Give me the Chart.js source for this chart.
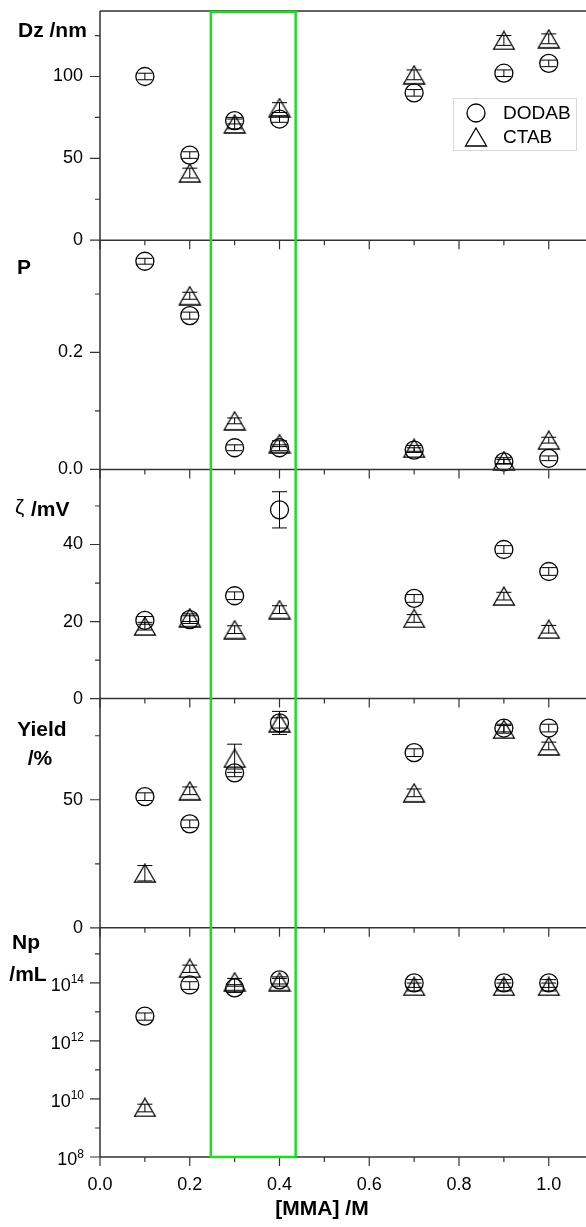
<!DOCTYPE html>
<html>
<head>
<meta charset="utf-8">
<script src="https://cdn.jsdelivr.net/npm/chart.js@4.4.0/dist/chart.umd.min.js"></script>
<style>
html,body{margin:0;padding:0;background:#fff;}
#wrap{position:relative;width:586px;height:1227px;}
canvas{display:block;}
</style>
</head>
<body>
<div id="wrap"><canvas id="c" width="586" height="1227"></canvas></div>
<script>
// ---------------- DATA ----------------
const mma = [0.1, 0.2, 0.3, 0.4, 0.7, 0.9, 1.0];
const seriesNames = ['DODAB', 'CTAB'];

const xMajorTicks = [0.0, 0.2, 0.4, 0.6, 0.8, 1.0];
const xMinorTicks = [0.1, 0.3, 0.5, 0.7, 0.9];

// Dz /nm
const dzDODAB = [100, 52, 73, 74, 90, 102, 108];
const dzCTAB = [null, 41, 71, 81, 101, 122, 123];
const dzDODABErr = [2, 2, 2, 2, 2, 2, 2];
const dzCTABErr = [null, 3, 3, 3, 3, 3, 3];
const dzTicks = [0, 50, 100];
const dzMinor = [25, 75, 125];

// P
const pDODAB = [0.356, 0.263, 0.037, 0.037, 0.033, 0.013, 0.019];
const pCTAB = [null, 0.297, 0.083, 0.044, 0.036, 0.015, 0.050];
const pDODABErr = [0.005, 0.006, 0.005, 0.005, 0.004, 0.004, 0.004];
const pCTABErr = [null, 0.006, 0.005, 0.005, 0.005, 0.005, 0.005];
const pTicks = [0.0, 0.2];
const pMinor = [0.1, 0.3];

// zeta /mV
const zetaDODAB = [20.3, 20.5, 26.7, 49.0, 26.0, 38.7, 33.0];
const zetaCTAB = [18.8, 21.0, 17.9, 23.1, 20.8, 26.6, 18.0];
const zetaDODABErr = [1.0, 1.0, 1.0, 4.7, 1.0, 1.0, 1.0];
const zetaCTABErr = [1.0, 1.0, 1.0, 1.0, 1.0, 1.0, 1.0];
const zetaTicks = [0, 20, 40];
const zetaMinor = [10, 30, 50];

// Yield /%
const yieldDODAB = [51.2, 40.6, 60.5, 80.0, 68.4, 78.0, 78.0];
const yieldCTAB = [21.3, 53.5, 66.2, 80.0, 52.7, 77.5, 71.0];
const yieldDODABErr = [1.5, 1.5, 1.5, 2.0, 1.5, 1.5, 1.5];
const yieldCTABErr = [3.0, 1.5, 5.5, 4.5, 1.5, 1.5, 1.5];
const yieldTicks = [0, 50];
const yieldMinor = [25, 75];

// Np /mL
const npDODAB = [7.2e12, 8.5e13, 6.7e13, 1.27e14, 1.0e14, 1.0e14, 1.0e14];
const npCTAB = [5.1e9, 3.2e14, 1.1e14, 1.1e14, 7.6e13, 7.6e13, 7.6e13];
const npDODABErr = [2.0e12, 2.5e13, 2.0e13, 3.5e13, 3.0e13, 3.0e13, 3.0e13];
const npCTABErr = [1.5e9, 9.0e13, 3.3e13, 3.3e13, 2.3e13, 2.3e13, 2.3e13];
const npTicks = [1e8, 1e10, 1e12, 1e14];
const npMinor = [1e9, 1e11, 1e13, 1e15];

// highlighted range of [MMA]
const highlightRange = [0.247, 0.436];

// ---------------- STYLE / LAYOUT ----------------
const FONT = '"Liberation Sans", Arial, sans-serif';
const AXIS_COLOR = '#333';
const GREEN = '#1fdc1f';

// triangle marker (bounding-box centred, like the original)
const triImg = document.createElement('canvas');
triImg.width = 24; triImg.height = 20;
(function(){
  const t = triImg.getContext('2d');
  t.strokeStyle = '#000'; t.lineWidth = 1.3;
  t.beginPath(); t.moveTo(12, 1); t.lineTo(22.5, 19); t.lineTo(1.5, 19); t.closePath(); t.stroke();
})();

const panels = [
  {id:'yDz', type:'linear', min:0, max:140, major:dzTicks, minor:dzMinor, fmt:v=>String(v),
   d:dzDODAB, c:dzCTAB, dE:dzDODABErr, cE:dzCTABErr, weight:5},
  {id:'yP', type:'linear', min:0, max:0.392, major:pTicks, minor:pMinor, fmt:v=>v.toFixed(1),
   d:pDODAB, c:pCTAB, dE:pDODABErr, cE:pCTABErr, weight:4},
  {id:'yZeta', type:'linear', min:0, max:59.5, major:zetaTicks, minor:zetaMinor, fmt:v=>String(v),
   d:zetaDODAB, c:zetaCTAB, dE:zetaDODABErr, cE:zetaCTABErr, weight:3},
  {id:'yYield', type:'linear', min:0, max:89.5, major:yieldTicks, minor:yieldMinor, fmt:v=>String(v),
   d:yieldDODAB, c:yieldCTAB, dE:yieldDODABErr, cE:yieldCTABErr, weight:2},
  {id:'yNp', type:'logarithmic', min:1e8, max:Math.pow(10,15.9), major:npTicks, minor:npMinor, fmt:v=>'',
   d:npDODAB, c:npCTAB, dE:npDODABErr, cE:npCTABErr, weight:1, log:true}
];

function zeroPad(s) { s.paddingTop = 0; s.paddingBottom = 0; s.paddingLeft = 0; s.paddingRight = 0; }

const datasets = [];
const scales = {
  x: {
    type:'linear', position:'bottom', min:0, max:1.083,
    grid:{display:false, drawTicks:false}, border:{display:false},
    afterBuildTicks: s => { s.ticks = xMajorTicks.map(v => ({value:v})); },
    afterFit: s => { s.height = 70; zeroPad(s); },
    ticks:{ padding:17, color:'#000', font:{family:FONT, size:18}, autoSkip:false, maxRotation:0,
      callback: v => Number(v).toFixed(1) }
  }
};

panels.forEach(p => {
  scales[p.id] = {
    type:p.type, position:'left', stack:'panels', stackWeight:1, weight:p.weight,
    min:p.min, max:p.max,
    grid:{display:false, drawTicks:false}, border:{display:false},
    afterBuildTicks: s => { s.ticks = p.major.map(v => ({value:v})); },
    afterFit: s => { s.width = 100; zeroPad(s); },
    ticks:{ padding:17, color:'#000', font:{family:FONT, size:18}, autoSkip:false,
      callback: v => p.fmt(v) }
  };
  const mk = (arr, err, style, name) => ({
    label:name, yAxisID:p.id, xAxisID:'x',
    data: mma.map((x,i) => ({x, y:arr[i], e:err[i]})).filter(o => o.y !== null),
    pointStyle: style, pointRadius: 9, pointHoverRadius: 9,
    borderColor:'#000', backgroundColor:'rgba(0,0,0,0)', pointBorderWidth:1.3,
    showLine:false, clip:false
  });
  datasets.push(mk(p.d, p.dE, 'circle', seriesNames[0]));
  datasets.push(mk(p.c, p.cE, triImg, seriesNames[1]));
});

const decor = {
  id:'decor',
  afterDatasetsDraw(chart) {
    const ctx = chart.ctx;
    const xs = chart.scales.x;
    const area = chart.chartArea;
    ctx.save();
    // error bars
    ctx.strokeStyle = '#000'; ctx.lineWidth = 1;
    chart.data.datasets.forEach(ds => {
      const ys = chart.scales[ds.yAxisID];
      ds.data.forEach(o => {
        if (o.e == null) return;
        const px = xs.getPixelForValue(o.x);
        const y1 = ys.getPixelForValue(o.y + o.e);
        const y2 = ys.getPixelForValue(o.y - o.e);
        ctx.beginPath();
        ctx.moveTo(px, y1); ctx.lineTo(px, y2);
        ctx.moveTo(px - 7.5, y1); ctx.lineTo(px + 7.5, y1);
        ctx.moveTo(px - 7.5, y2); ctx.lineTo(px + 7.5, y2);
        ctx.stroke();
      });
    });

    // frame lines
    ctx.strokeStyle = AXIS_COLOR; ctx.lineWidth = 1.5;
    ctx.beginPath();
    ctx.moveTo(area.left, area.top); ctx.lineTo(area.left, area.bottom);
    ctx.moveTo(area.left, area.top); ctx.lineTo(area.right, area.top);
    panels.forEach(p => {
      const s = chart.scales[p.id];
      ctx.moveTo(area.left, s.bottom); ctx.lineTo(area.right, s.bottom);
    });
    ctx.stroke();

    // y ticks
    ctx.lineWidth = 1.2;
    ctx.beginPath();
    panels.forEach(p => {
      const s = chart.scales[p.id];
      p.major.forEach(v => { const y = s.getPixelForValue(v); ctx.moveTo(area.left - 10, y); ctx.lineTo(area.left, y); });
      p.minor.forEach(v => { const y = s.getPixelForValue(v); ctx.moveTo(area.left - 5, y); ctx.lineTo(area.left, y); });
    });
    // x ticks below each panel boundary
    panels.forEach(p => {
      const s = chart.scales[p.id];
      const yb = s.bottom;
      xMajorTicks.forEach(v => { const x = xs.getPixelForValue(v); ctx.moveTo(x, yb); ctx.lineTo(x, yb + 9); });
      xMinorTicks.forEach(v => { const x = xs.getPixelForValue(v); ctx.moveTo(x, yb); ctx.lineTo(x, yb + 5); });
    });
    ctx.stroke();

    // log tick labels with superscripts
    const np = chart.scales.yNp;
    ctx.fillStyle = '#000';
    ctx.textBaseline = 'alphabetic';
    npTicks.forEach(v => {
      const y = np.getPixelForValue(v);
      const exp = String(Math.round(Math.log10(v)));
      ctx.font = '12px ' + FONT;
      const ew = ctx.measureText(exp).width;
      ctx.textAlign = 'right';
      ctx.fillText(exp, 84, y + 0.5);
      ctx.font = '18px ' + FONT;
      ctx.fillText('10', 84 - ew, y + 8);
    });

    // highlight rectangle
    const gx1 = xs.getPixelForValue(highlightRange[0]);
    const gx2 = xs.getPixelForValue(highlightRange[1]);
    ctx.strokeStyle = GREEN; ctx.lineWidth = 2.5;
    ctx.strokeRect(gx1, area.top + 1, gx2 - gx1, area.bottom - area.top - 1);

    // axis titles
    ctx.fillStyle = '#000';
    ctx.textAlign = 'left';
    ctx.font = 'bold 21px ' + FONT;
    ctx.fillText('Dz /nm', 18, 37);
    ctx.fillText('P', 17, 274);
    ctx.font = '21px ' + FONT;
    ctx.fillText('\u03B6', 15, 514);
    ctx.font = 'bold 21px ' + FONT;
    ctx.fillText('/mV', 31, 516);
    ctx.textAlign = 'center';
    ctx.fillText('Yield', 42, 736);
    ctx.fillText('/%', 40, 765);
    ctx.fillText('Np', 26, 949);
    ctx.fillText('/mL', 28, 981);
    ctx.fillText('[MMA] /M', 322, 1215);

    // legend
    ctx.fillStyle = '#fff';
    ctx.fillRect(453, 98, 123, 52);
    ctx.strokeStyle = '#d8d8d8'; ctx.lineWidth = 1;
    ctx.strokeRect(453.5, 98.5, 123, 52);
    ctx.strokeStyle = '#000'; ctx.lineWidth = 1.3;
    ctx.beginPath(); ctx.arc(476, 113, 9, 0, Math.PI * 2); ctx.stroke();
    ctx.drawImage(triImg, 476 - triImg.width / 2, 137 - triImg.height / 2);
    ctx.fillStyle = '#000';
    ctx.font = '19px ' + FONT;
    ctx.textAlign = 'left'; ctx.textBaseline = 'middle';
    ctx.fillText(seriesNames[0], 503, 114);
    ctx.fillText(seriesNames[1], 503, 138);
    ctx.restore();
  }
};

new Chart(document.getElementById('c'), {
  type:'scatter',
  data:{ datasets },
  options:{
    responsive:false, animation:false, devicePixelRatio:1,
    layout:{ autoPadding:false, padding:{ top:11, left:0, right:0, bottom:0 } },
    plugins:{ legend:{display:false}, tooltip:{enabled:false} },
    scales
  },
  plugins:[decor]
});
</script>
</body>
</html>
